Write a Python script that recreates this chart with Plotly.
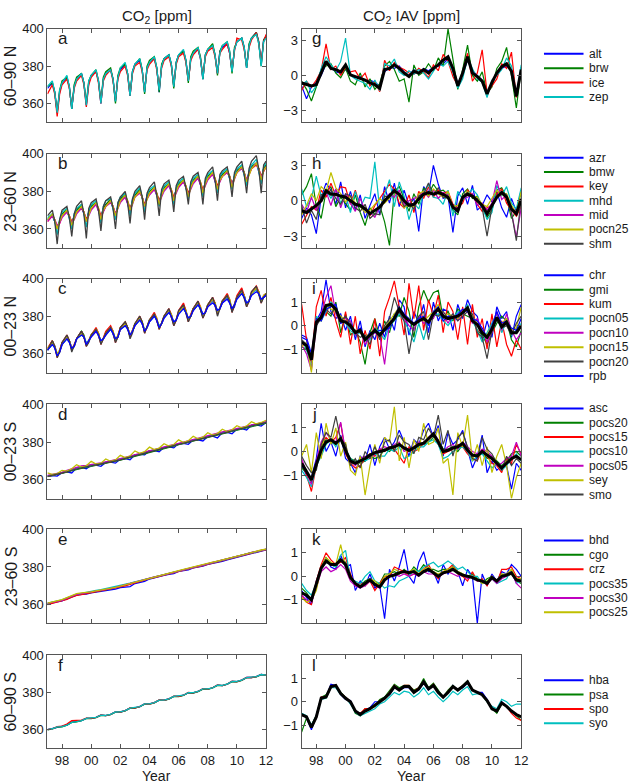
import plotly.graph_objects as go

# ---------------- time grids & ticks ----------------
YEARS = list(range(1997, 2012))
SEASON_MONTHS = [0, 4, 6, 8, 10]   # Jan, May, Jul, Sep, Nov samples (panels a-c)
THIRD_MONTHS = [0, 4, 8]           # Jan, May, Sep samples (panels d-l)
T_SEASON = [y + m / 12 for y in YEARS for m in SEASON_MONTHS] + [2012.0]
T_THIRD = [y + m / 12 for y in YEARS for m in THIRD_MONTHS] + [2012.0]

XTICK_VALS = [1998, 2000, 2002, 2004, 2006, 2008, 2010, 2012]
XTICK_TEXT = ['98', '00', '02', '04', '06', '08', '10', '12']
ROW_LABELS = ['60–90 N', '23–60 N', '00–23 N', '00–23 S', '23–60 S', '60–90 S']
LEFT_LETTERS = ['a', 'b', 'c', 'd', 'e', 'f']
RIGHT_LETTERS = ['g', 'h', 'i', 'j', 'k', 'l']

STATIONS = [
    ['alt', 'brw', 'ice', 'zep'],
    ['azr', 'bmw', 'key', 'mhd', 'mid', 'pocn25', 'shm'],
    ['chr', 'gmi', 'kum', 'pocn05', 'pocn10', 'pocn15', 'pocn20', 'rpb'],
    ['asc', 'pocs20', 'pocs15', 'pocs10', 'pocs05', 'sey', 'smo'],
    ['bhd', 'cgo', 'crz', 'pocs35', 'pocs30', 'pocs25'],
    ['hba', 'psa', 'spo', 'syo'],
]
COLORS = ['#0000ff', '#008000', '#ff0000', '#00bfbf', '#bf00bf', '#bfbf00', '#404040']

# ---------------- CO2 [ppm], panels a-c (T_SEASON) ----------------
a_alt = [368,371,366,355,366, 371,374,369,357,369, 373,376,371,359,371, 375,377,372,360,373, 376,378,373,361,374, 378,381,376,364,377, 381,383,378,366,379, 382,384,379,366,380, 384,386,381,369,382, 386,388,383,372,384, 387,389,384,373,386, 389,391,386,376,388, 390,392,387,377,389, 393,395,390,379,391, 395,398,393,381,394, 396]
a_brw = [369,371,366,355,367, 372,374,369,357,370, 374,376,371,360,372, 375,378,372,361,374, 377,379,373,360,375, 379,381,376,365,377, 381,384,378,365,380, 383,385,379,366,381, 384,386,381,368,382, 386,388,383,371,385, 388,390,385,373,386, 389,392,386,375,388, 391,393,388,376,390, 393,395,390,379,392, 395,398,393,380,394, 396]
a_ice = [365,370,365,353,365, 370,373,368,358,368, 372,375,370,358,370, 374,377,371,360,372, 375,378,372,362,373, 377,380,375,364,376, 380,382,377,367,378, 381,384,378,368,379, 383,385,380,370,381, 385,387,382,372,383, 386,389,384,374,385, 388,390,385,376,387, 389,392,387,378,388, 395,394,389,380,390, 394,398,392,382,393, 397]
a_zep = [369,372,366,355,367, 371,375,369,357,369, 373,376,371,359,372, 375,378,372,360,373, 376,378,373,361,374, 379,382,376,364,377, 381,384,378,366,379, 382,385,379,367,380, 384,386,381,369,382, 386,389,383,372,384, 387,390,384,373,386, 389,391,386,376,387, 391,393,388,377,389, 393,395,390,379,391, 395,397,392,380,393, 395]

b_azr = [365,367,364,360,364, 368,370,366,362,367, 370,372,368,364,369, 372,374,370,366,371, 373,375,371,367,372, 376,378,374,369,375, 378,380,377,372,378, 380,382,378,374,379, 382,384,380,376,381, 384,386,382,378,383, 386,388,384,379,385, 388,390,386,381,387, 389,391,387,383,388, 391,393,389,385,390, 393,395,391,386,392, 394]
b_bmw = [365,368,364,361,364, 368,370,367,363,367, 370,373,369,364,369, 372,374,370,366,371, 373,376,372,367,372, 376,378,374,370,375, 378,381,377,372,377, 380,382,379,374,379, 382,384,380,376,381, 384,386,382,378,383, 386,388,384,380,385, 388,390,386,382,387, 389,391,388,383,388, 391,393,390,385,390, 393,395,392,387,392, 394]
b_key = [364,367,365,361,363, 367,369,367,364,366, 369,371,369,365,368, 371,373,371,367,370, 372,375,372,368,371, 375,377,375,371,374, 377,380,377,373,376, 379,381,379,375,378, 381,383,381,377,380, 383,385,383,379,382, 385,387,385,381,384, 387,389,387,383,386, 388,390,388,384,387, 390,393,390,386,389, 392,394,392,388,391, 393]
b_mhd = [366,368,364,357,365, 369,371,366,360,368, 371,373,368,361,370, 373,375,370,363,372, 375,376,371,365,374, 377,379,374,367,376, 379,382,377,369,378, 381,383,378,372,380, 383,385,380,373,382, 385,387,382,376,384, 387,389,384,377,386, 389,391,386,379,388, 390,392,387,381,389, 392,394,389,383,391, 394,397,391,384,393, 395]
b_mid = [364,367,365,362,363, 366,369,367,363,365, 368,371,369,364,367, 370,373,370,366,369, 372,374,372,368,371, 374,377,374,370,373, 377,379,377,372,376, 378,381,378,374,377, 380,383,380,376,379, 382,385,382,378,381, 384,387,384,380,383, 386,389,386,382,385, 388,390,388,383,387, 390,392,390,386,389, 392,395,392,387,391, 393]
b_pocn25 = [365,368,365,360,364, 367,370,367,362,366, 369,372,369,364,368, 371,374,371,365,370, 372,375,372,367,371, 375,378,375,370,374, 377,380,377,372,376, 379,382,379,373,378, 381,384,381,375,380, 383,386,383,377,382, 385,388,385,379,384, 387,390,387,381,386, 388,391,388,382,387, 390,393,390,385,389, 392,395,392,386,391, 393]
b_shm = [367,370,364,352,365, 370,372,366,356,368, 372,375,368,355,371, 374,376,370,359,372, 375,377,371,360,374, 377,380,374,363,376, 380,383,377,365,379, 382,385,378,367,381, 384,386,380,369,383, 386,388,382,373,385, 388,390,384,373,387, 390,393,386,375,389, 391,393,387,377,390, 393,396,389,379,392, 396,399,392,379,394, 396]

c_chr = [362,366,364,359,361, 365,369,367,363,364, 368,372,369,365,367, 370,373,370,366,368, 371,374,371,367,369, 373,376,374,370,372, 376,379,376,372,374, 378,381,378,374,376, 380,383,380,376,378, 382,386,382,378,380, 384,387,384,380,382, 386,389,386,382,384, 388,391,388,383,385, 390,393,391,386,388, 392,395,392,388,390, 391]
c_gmi = [362,367,364,359,361, 366,369,367,362,364, 368,372,370,365,367, 370,373,371,366,368, 371,374,372,367,369, 374,377,374,369,372, 376,379,377,372,374, 378,381,378,374,376, 380,383,381,376,378, 382,386,383,378,380, 384,387,384,380,382, 386,389,387,382,384, 388,391,388,383,386, 390,393,391,386,388, 392,395,393,388,390, 391]
c_kum = [363,367,364,358,362, 366,370,367,362,365, 368,372,369,364,367, 370,374,371,365,368, 372,375,372,366,370, 374,377,374,369,372, 376,380,377,371,374, 378,382,379,373,376, 380,384,381,375,378, 383,387,383,377,381, 384,388,385,379,382, 386,390,387,381,384, 388,392,389,382,386, 391,395,391,385,388, 393,396,393,387,391, 392]
c_pocn05 = [362,365,364,360,361, 365,368,367,363,364, 368,370,369,366,367, 369,372,370,367,368, 370,373,371,368,369, 373,375,374,370,372, 375,378,376,373,374, 377,380,378,375,376, 379,382,380,377,378, 382,384,382,379,380, 383,386,384,381,382, 385,388,386,383,384, 387,390,388,384,386, 390,392,390,387,388, 392,394,392,389,390, 391]
c_pocn10 = [362,366,364,360,361, 365,369,367,363,364, 368,371,369,365,367, 369,372,370,366,368, 370,374,371,367,369, 373,376,374,370,372, 375,379,376,372,374, 377,381,378,374,376, 379,383,380,376,378, 382,385,382,378,380, 383,387,384,380,382, 385,389,386,382,384, 387,391,388,384,386, 390,393,390,386,388, 392,395,392,388,390, 391]
c_pocn15 = [363,366,364,360,362, 365,369,367,363,364, 368,371,369,365,367, 370,373,371,366,368, 371,374,372,367,370, 373,376,374,370,372, 376,379,377,372,374, 378,381,379,374,376, 380,383,381,376,378, 382,385,383,378,380, 384,387,385,380,382, 386,389,387,382,384, 388,391,389,384,386, 390,393,391,386,388, 392,395,393,388,391, 392]
c_pocn20 = [362,367,364,358,361, 366,370,367,361,364, 368,372,369,364,366, 370,373,370,365,368, 371,374,371,366,369, 374,377,374,368,371, 376,380,377,371,374, 378,381,378,373,376, 380,384,380,375,378, 383,386,382,377,380, 384,388,384,379,382, 386,390,386,380,384, 388,391,388,382,386, 390,394,390,385,388, 393,396,392,387,390, 392]
c_rpb = [362,365,363,359,361, 365,368,366,363,364, 368,370,369,365,367, 369,372,370,367,368, 370,373,371,368,369, 373,375,373,370,372, 375,378,376,372,374, 377,380,378,374,376, 379,382,380,377,378, 381,384,382,379,380, 383,386,384,381,382, 385,387,386,383,384, 387,389,387,384,386, 389,392,390,387,388, 391,393,392,389,390, 391]

# ---------------- CO2 [ppm], panels d-f (T_THIRD) ----------------
d_asc = [362.0,362.2,361.9, 363.7,364.2,363.6, 366.3,366.5,365.8, 367.7,367.7,367.1, 369.2,369.3,368.8, 371.0,371.2,370.6, 373.2,373.5,373.2, 375.4,375.5,374.9, 377.2,377.4,376.9, 379.2,379.3,378.8, 381.1,381.2,380.6, 383.0,383.2,382.2, 385.0,385.1,384.4, 386.9,387.1,386.4, 389.0,389.1,388.5, 390.4]
d_pocs20 = [361.6,362.1,362.6, 363.1,364.0,364.8, 365.6,366.1,366.6, 367.1,367.6,368.1, 368.6,369.2,369.8, 370.4,371.1,371.8, 372.6,373.3,374.1, 374.8,375.4,376.0, 376.6,377.3,377.9, 378.6,379.2,379.9, 380.5,381.1,381.8, 382.4,383.1,383.7, 384.4,385.0,385.7, 386.3,387.0,387.7, 388.4,389.0,389.6, 390.1]
d_pocs15 = [361.8,362.4,363.1, 363.6,364.3,365.3, 366.2,366.4,367.1, 367.6,367.9,368.6, 369.1,369.5,370.3, 370.9,371.4,372.3, 373.1,373.6,374.6, 375.3,375.7,376.5, 377.1,377.6,378.4, 379.1,379.5,380.4, 381.0,381.4,382.3, 382.9,383.4,384.2, 384.9,385.3,386.2, 386.8,387.3,388.2, 388.9,389.3,390.1, 390.6]
d_pocs10 = [361.9,362.5,363.0, 363.4,364.4,365.1, 366.0,366.6,366.9, 367.5,368.1,368.4, 369.0,369.7,370.1, 370.8,371.6,372.1, 373.0,373.8,374.4, 375.2,375.9,376.3, 377.0,377.8,378.2, 379.0,379.7,380.2, 380.9,381.6,382.1, 382.8,383.6,384.0, 384.8,385.5,386.0, 386.7,387.5,388.0, 388.8,389.5,389.9, 390.5]
d_pocs05 = [362.3,362.9,363.4, 363.9,365.0,365.8, 366.8,367.3,367.6, 368.2,368.5,368.9, 369.4,370.0,370.6, 371.2,371.9,372.6, 373.4,374.1,374.9, 375.6,376.2,376.8, 377.4,378.1,378.7, 379.4,380.1,380.9, 381.6,382.2,382.9, 383.5,384.2,384.8, 385.4,386.0,386.6, 387.1,387.8,388.5, 389.2,389.8,390.4, 390.9]
d_sey = [363.6,362.8,363.3, 365.0,364.6,365.8, 368.0,366.7,367.4, 369.8,368.3,368.8, 371.0,369.8,370.5, 373.0,371.7,372.6, 375.3,374.0,374.9, 377.3,376.0,376.8, 379.1,377.9,378.7, 381.2,379.8,380.7, 383.1,381.7,382.6, 385.0,383.7,384.5, 386.8,385.6,386.5, 388.7,387.6,388.5, 390.8,389.6,390.4, 391.6]
d_smo = [361.8,362.3,362.8, 363.3,364.2,365.0, 365.8,366.3,366.8, 367.3,367.8,368.3, 368.8,369.4,370.0, 370.6,371.3,372.0, 372.8,373.5,374.3, 375.0,375.6,376.2, 376.8,377.5,378.1, 378.8,379.4,380.1, 380.7,381.3,382.0, 382.6,383.3,383.9, 384.6,385.2,385.9, 386.5,387.2,387.9, 388.6,389.2,389.8, 390.3]

e_bhd = [360.4,360.9,361.2, 362.0,363.1,364.0, 365.0,365.4,365.6, 366.2,366.6,366.8, 367.4,367.9,368.2, 369.0,369.4,369.6, 371.2,371.8,372.4, 373.6,374.1,374.6, 375.5,376.1,376.5, 377.6,378.0,378.5, 379.5,379.9,380.4, 381.4,381.9,382.2, 382.9,383.7,384.4, 385.3,385.8,386.4, 387.4,387.8,388.4, 389.1]
e_cgo = [360.6,361.1,361.6, 362.3,363.3,364.3, 365.2,365.6,366.0, 366.4,366.9,367.3, 367.8,368.4,369.0, 369.6,370.3,371.0, 371.8,372.5,373.3, 374.0,374.6,375.2, 375.8,376.5,377.1, 377.8,378.4,379.1, 379.7,380.3,381.0, 381.6,382.3,382.9, 383.6,384.2,384.9, 385.5,386.2,386.9, 387.6,388.2,388.8, 389.3]
e_crz = [360.0,360.6,361.3, 361.8,362.8,363.9, 364.9,365.3,365.8, 366.2,366.6,367.1, 367.6,368.1,368.8, 369.4,370.0,370.8, 371.6,372.2,373.1, 373.8,374.3,375.0, 375.6,376.2,376.9, 377.6,378.1,378.9, 379.5,380.0,380.8, 381.4,382.0,382.7, 383.4,383.9,384.7, 385.3,385.9,386.7, 387.4,387.9,388.6, 389.1]
e_pocs35 = [360.8,361.3,361.8, 362.5,363.6,364.6, 365.5,366.0,366.4, 366.9,367.5,368.0, 368.5,369.1,369.6, 370.2,370.8,371.4, 372.1,372.7,373.4, 374.0,374.6,375.2, 375.8,376.5,377.1, 377.8,378.4,379.1, 379.7,380.3,381.0, 381.6,382.3,382.9, 383.6,384.2,384.9, 385.5,386.2,386.9, 387.6,388.2,388.8, 389.3]
e_pocs30 = [360.6,361.2,361.7, 362.3,363.4,364.4, 365.4,365.8,366.2, 366.6,367.1,367.5, 368.0,368.5,369.1, 369.7,370.4,371.1, 371.9,372.6,373.4, 374.1,374.7,375.3, 375.9,376.6,377.2, 377.9,378.5,379.2, 379.8,380.4,381.1, 381.7,382.4,383.0, 383.7,384.3,385.0, 385.6,386.3,387.0, 387.7,388.3,388.9, 389.4]
e_pocs25 = [360.8,361.4,362.0, 362.6,363.7,364.8, 365.8,366.2,366.4, 366.8,367.3,367.7, 368.2,368.7,369.2, 369.8,370.5,371.3, 372.1,372.8,373.6, 374.3,374.9,375.5, 376.1,376.8,377.4, 378.1,378.7,379.4, 380.0,380.6,381.3, 381.9,382.5,383.1, 383.8,384.4,385.1, 385.7,386.4,387.1, 387.8,388.4,389.0, 389.5]

f_hba = [360.0,360.6,361.4, 361.7,362.5,364.0, 364.3,364.9,366.1, 366.1,366.6,367.8, 367.6,368.2,369.5, 369.5,370.2,371.6, 371.7,372.4,373.8, 373.8,374.5,375.9, 375.8,376.5,377.9, 377.9,378.5,379.9, 379.8,380.5,381.9, 381.8,382.5,383.9, 383.7,384.5,385.9, 385.8,386.6,388.0, 388.0,388.5,389.6, 389.3]
f_psa = [359.9,360.4,361.4, 361.5,362.4,363.9, 364.2,364.8,366.0, 366.0,366.5,367.7, 367.5,368.1,369.4, 369.4,370.1,371.5, 371.6,372.3,373.7, 373.7,374.4,375.8, 375.7,376.4,377.8, 377.8,378.4,379.8, 379.7,380.4,381.8, 381.7,382.4,383.8, 383.6,384.4,385.8, 385.7,386.5,387.9, 387.9,388.4,389.5, 389.2]
f_spo = [360.0,360.5,361.6, 361.9,363.0,364.8, 365.0,365.1,366.2, 366.1,366.6,367.9, 367.6,368.2,369.6, 369.5,370.2,371.7, 371.7,372.4,373.9, 373.8,374.5,376.0, 375.8,376.5,378.0, 377.9,378.5,380.0, 379.8,380.5,382.0, 381.8,382.5,384.0, 383.7,384.5,386.0, 385.8,386.6,388.1, 388.0,388.5,389.7, 389.3]
f_syo = [360.0,360.5,361.5, 361.6,362.4,363.9, 364.3,364.9,366.1, 366.2,366.6,367.8, 367.7,368.2,369.5, 369.6,370.2,371.6, 371.8,372.4,373.8, 373.9,374.5,375.9, 375.9,376.5,377.9, 378.0,378.5,379.9, 379.9,380.5,381.9, 381.9,382.5,383.9, 383.8,384.5,385.9, 385.9,386.6,388.0, 388.1,388.5,389.6, 389.3]

# ---------------- CO2 IAV [ppm], panels g-l (T_THIRD) ----------------
g_alt = [-0.9,-2.0,-1.0, -0.6,0.0,1.0, 0.7,0.3,0.2, 0.5,0.0,-0.2, -0.1,-0.5,-0.4, -0.6,-0.9,0.3, 0.7,0.6,0.8, 0.3,0.0,0.5, 0.1,0.6,0.4, 0.7,0.8,1.0, 1.4,0.5,-0.7, 0.1,1.3,0.4, 0.0,-0.4,-1.4, -0.8,0.3,0.6, 0.8,0.5,-1.6, 0.3]
g_brw = [-0.5,-1.2,-2.2, -1.0,0.5,0.8, 1.0,0.2,-0.2, 0.6,-0.5,-0.8, 0.2,-1.0,-0.3, -1.2,-0.7,0.8, 1.2,0.5,-0.5, -0.3,-2.3,0.9, 0.0,0.3,1.0, 0.4,1.5,0.8, 4.0,1.5,-1.2, 0.5,2.6,0.0, -0.5,0.3,-1.5, -1.0,0.6,1.2, 2.4,0.0,-2.8, 0.6]
g_ice = [-1.3,-0.5,-1.0, -0.4,0.4,2.7, 0.5,0.8,0.0, 0.7,0.3,0.4, -0.3,0.2,-0.9, -0.5,-1.4,1.3, 0.4,1.1,0.7, 0.5,0.2,0.1, 0.6,0.3,-0.2, 0.9,0.4,1.8, 1.2,-0.1,-0.9, 0.3,1.9,-0.5, 0.2,2.2,-1.5, -0.9,-0.3,1.0, 0.6,2.0,-1.9, 0.7]
g_zep = [-0.8,-0.5,-1.5, -0.9,0.6,1.6, 0.9,0.4,1.2, 3.2,0.0,-0.3, -0.5,-0.7,-1.2, -0.4,-1.3,1.0, 0.8,1.4,0.3, 0.0,0.4,0.1, 0.5,0.2,-0.3, 0.4,1.0,0.8, 1.2,0.3,-1.1, -0.3,1.5,0.6, -0.3,-0.6,-1.9, -0.4,0.0,0.5, 1.5,0.8,-1.7, 0.9]
g_mean = [-0.65,-0.8,-0.9, -0.8,0.2,1.2, 0.6,0.5,0.3, 0.9,0.05,-0.1, -0.2,-0.4,-0.65, -0.8,-1.1,0.5, 0.6,0.9,0.6, 0.2,-0.1,0.35, 0.2,0.5,0.2, 0.6,0.9,1.3, 1.6,0.6,-0.9, 0.2,1.6,0.2, -0.1,-0.5,-1.6, -0.6,0.2,0.75, 1.0,0.35,-1.8, 0.5]

h_azr = [-1.5,-0.6,-1.2, -2.8,0.3,1.5, 0.9,-0.3,1.6, -0.6,0.8,-0.8, 0.5,-1.5,-0.4, 0.6,-1.2,1.2, -0.2,1.5,-0.5, 0.9,-0.4,0.2, -2.6,1.2,0.6, 3.0,1.4,0.2, 0.4,-2.7,0.4, 1.1,-0.3,1.3, -0.8,-0.4,0.5, -0.1,0.8,-0.6, -1.4,0.2,-0.9, 0.9]
h_bmw = [0.5,1.2,2.3, -0.5,-1.5,0.8, 1.2,-0.5,0.3, -0.2,-0.8,0.5, -1.0,-2.1,-0.6, -1.2,-0.4,-1.8, -3.8,0.8,1.2, 0.2,-0.9,0.6, -0.3,1.1,0.5, 1.4,0.8,0.9, 0.5,-0.8,-1.2, 0.6,1.0,0.2, 0.4,-0.6,-1.4, -0.8,0.9,1.1, 0.3,-1.5,-0.9, 0.8]
h_key = [-2.0,-1.2,-0.5, -0.8,0.9,0.3, 1.5,0.4,1.2, 1.1,-0.3,0.9, -0.5,-0.6,-1.3, -0.4,0.2,0.8, 1.4,1.0,-0.2, -0.6,0.5,-1.0, 0.8,0.2,1.2, 0.3,0.9,0.6, 0.8,-0.3,-0.6, -0.2,0.9,0.5, -0.3,-0.9,-0.6, -0.4,0.6,1.0, -0.2,-0.8,-1.3, -0.5]
h_mhd = [1.0,-0.5,0.2, 2.1,0.4,0.9, 0.2,1.0,-0.2, 0.5,-1.0,0.8, -0.6,0.3,0.2, 3.3,-0.8,0.6, 1.8,-0.5,1.6, 0.4,-1.6,-0.2, -0.7,0.6,1.4, 0.3,0.2,-0.3, 0.9,-1.3,0.8, 0.1,0.5,1.0, 0.5,-0.5,-1.6, -1.0,1.3,0.4, 1.2,-0.2,-0.7, 1.1]
h_mid = [-0.3,-1.0,0.3, -0.8,0.2,0.8, -0.4,1.0,-0.6, 0.6,-0.2,-0.9, 0.2,-0.8,-1.0, -1.4,-0.5,-0.1, 0.6,0.3,0.9, -0.3,0.0,0.2, 0.4,0.8,0.3, 0.9,0.2,0.7, 0.5,-0.4,-1.0, 0.2,0.3,0.6, -0.4,-0.2,-0.8, -0.2,1.7,0.1, 0.5,-1.0,-3.1, -0.6]
h_pocn25 = [-1.2,-0.4,0.6, 0.0,1.2,0.8, 2.4,1.1,0.6, -0.1,0.4,-0.2, -0.5,-1.0,-0.8, -0.3,0.2,-0.2, 0.2,1.0,0.3, -0.6,-0.3,-0.5, 0.6,0.8,0.4, 1.0,0.6,0.3, 0.8,-0.5,-0.4, 0.4,0.8,0.3, 0.3,-0.3,-0.5, 0.2,0.9,0.5, 0.6,-0.4,-1.0, 0.8]
h_shm = [-0.4,-1.9,-0.8, -1.6,0.5,0.6, 0.9,0.2,-0.3, 0.6,0.4,-0.6, -0.9,-0.3,-1.5, -1.1,-1.2,0.4, 0.3,0.9,0.5, -0.5,-0.2,-0.7, 0.4,0.6,1.5, 0.5,1.1,0.3, 0.2,-0.5,-1.0, 0.4,0.7,0.3, 0.2,-0.6,-3.0, -0.5,0.4,0.8, 0.5,-1.0,-3.4, 0.2]
h_mean = [-0.85,-1.0,-0.7, -0.4,0.0,0.85, 0.55,0.55,0.4, 0.3,0.0,-0.3, -0.4,-0.7,-1.1, -0.85,-0.55,0.0, 0.4,0.85,0.55, 0.0,-0.4,-0.3, 0.15,0.55,0.7, 0.55,0.7,0.55, 0.3,-0.55,-0.85, 0.3,0.55,0.4, 0.0,-0.4,-1.1, -0.4,0.3,0.7, 0.3,-0.7,-1.1, 0.15]

i_chr = [-0.4,-0.5,-1.2, 0.2,0.6,1.95, 0.6,0.3,0.5, -0.2,0.4,-0.6, 0.2,-0.9,-0.2, -0.6,0.1,-0.5, 0.4,-0.2,1.1, 0.8,-0.4,0.6, 0.1,0.9,-0.3, 1.0,0.2,0.7, 0.6,-0.2,0.9, 0.3,1.1,0.6, 0.4,-0.6,0.2, -0.5,0.8,0.3, 0.6,-0.5,0.4, 0.9]
i_gmi = [-0.9,-1.0,-1.5, 0.1,0.4,0.6, 0.4,1.0,-0.3, 0.5,-0.4,-0.2, -0.7,-1.65,-0.3, 0.3,-0.5,0.2, -0.3,0.5,0.4, 1.2,0.6,-0.5, 0.8,1.5,1.0, 1.4,1.5,0.3, 0.6,0.2,0.7, 0.5,0.4,0.3, -0.2,-0.4,-0.8, -0.3,0.1,0.4, 0.2,-0.6,-0.9, -0.2]
i_kum = [0.9,-0.6,-1.6, 0.8,1.5,0.4, 1.2,0.2,-0.5, 0.6,-0.8,0.4, -1.2,-0.2,-1.0, 0.3,-1.3,0.6, 1.2,1.9,0.8, -0.4,1.8,0.3, 1.7,-0.2,1.1, 0.4,1.3,-0.3, 1.0,0.6,-0.6, 0.8,-0.8,0.9, -0.5,0.3,-1.0, 0.5,-0.9,0.2, -0.8,-1.3,-0.6, -1.0]
i_pocn05 = [-0.6,-1.0,-1.8, 0.4,0.2,0.6, 1.0,0.8,0.3, 0.1,-0.2,-0.4, -0.3,-0.5,-0.6, -0.1,-0.3,-0.6, 0.0,0.2,0.5, 0.2,-0.2,-0.7, 0.1,-0.6,0.2, 0.4,0.5,0.2, 0.0,0.3,0.6, 0.5,0.9,0.2, -0.2,-0.7,-0.3, 0.1,0.5,-0.3, 0.2,-0.4,-0.2, 0.1]
i_pocn10 = [-0.8,-1.2,-1.9, 0.0,0.5,1.2, 1.7,0.5,0.1, 0.3,0.2,-0.4, -0.2,-0.8,-0.5, -0.3,-0.4,-1.65, 0.1,0.3,0.6, 0.3,0.0,-0.2, 0.4,0.1,0.2, 0.3,0.8,0.5, 0.1,0.5,0.2, 0.7,0.6,0.1, 0.3,-0.2,-0.7, -0.3,0.6,-0.2, 0.5,-0.2,-0.6, -0.3]
i_pocn15 = [-0.9,-0.7,-2.0, 0.3,0.2,0.9, 0.7,0.6,0.4, 0.2,-0.1,-0.2, -0.3,-0.5,-0.3, -0.2,-0.4,-0.1, 0.2,0.5,0.8, 0.4,0.3,0.1, 0.3,0.2,0.4, 0.6,0.9,0.4, 0.5,0.4,0.3, 0.6,0.8,0.4, 0.1,-0.3,-0.4, 0.0,0.3,0.1, 0.3,-0.2,-0.1, 0.8]
i_pocn20 = [-0.6,-0.8,-1.3, 0.0,0.3,0.7, 0.5,0.8,0.2, 0.4,0.1,-0.3, -0.5,-0.4,-0.8, -0.1,-0.6,0.0, 0.3,1.2,0.6, 0.2,-1.2,0.0, 0.4,0.6,-0.6, 0.5,0.4,0.6, 0.3,0.5,0.2, 0.4,0.6,0.5, -0.3,-0.5,-1.4, -0.2,0.3,-0.1, 0.0,-0.4,0.1, 0.4]
i_rpb = [-0.5,-0.6,-1.4, 0.3,0.2,0.7, 0.8,0.9,0.1, 0.2,-0.1,-0.3, -0.1,-0.6,-0.3, -0.3,-0.2,-0.2, -0.1,0.4,0.8, 0.5,0.3,0.1, 0.3,0.4,0.0, 0.6,0.8,0.2, 0.4,0.3,0.5, 0.7,0.6,0.3, 0.2,-0.1,-0.5, 0.0,0.6,0.1, 0.2,-0.1,-0.2, 0.3]
i_mean = [-0.7,-0.85,-1.45, 0.15,0.35,0.85, 0.9,0.7,0.2, 0.15,0.0,-0.3, -0.2,-0.6,-0.4, -0.2,-0.4,-0.15, 0.05,0.3,0.7, 0.4,0.2,0.05, 0.2,0.3,0.15, 0.5,0.7,0.4, 0.3,0.35,0.4, 0.55,0.75,0.2, 0.05,-0.3,-0.5, -0.15,0.35,-0.05, 0.15,-0.3,-0.3, 0.0]

j_asc = [-0.6,-1.0,-1.1, -0.3,1.2,0.0, 0.4,-0.2,0.7, -0.3,-0.5,-0.9, -0.2,-0.4,0.3, -0.6,0.2,0.6, 0.1,0.4,0.9, 0.4,-0.2,0.5, 0.3,0.9,1.2, 0.6,1.1,-0.2, 0.8,0.3,0.5, 0.9,0.1,-0.7, -0.2,0.7,-0.9, -0.4,-0.8,-0.6, -0.6,-1.6,-0.5, -0.8]
j_pocs20 = [-0.7,-0.9,-1.3, -0.5,0.2,0.5, 0.4,0.3,0.5, 0.0,-0.3,-0.4, -0.5,-0.4,-0.2, -0.3,-0.2,0.1, 0.0,0.2,0.3, 0.1,0.0,0.2, 0.2,0.3,0.4, 0.6,0.5,0.1, 0.1,0.2,0.0, 0.3,0.1,-0.2, -0.1,0.0,-0.3, -0.2,-0.4,-0.6, -0.4,-0.1,0.0, -0.2]
j_pocs15 = [-0.4,-1.0,-1.7, -0.6,0.3,0.6, 0.4,0.6,1.2, -0.1,-0.5,-0.7, -0.6,-0.3,-0.1, -0.2,0.1,0.0, 0.2,0.1,-0.2, -0.5,0.2,0.0, 0.1,0.4,0.5, 0.7,0.3,-0.1, 0.0,0.1,0.3, 0.2,-0.1,-0.3, -0.4,0.1,-0.2, -0.5,-0.6,-0.9, -0.3,-0.5,0.3, -0.1]
j_pocs10 = [-0.8,-1.1,-1.5, -0.6,-0.2,0.3, 0.5,0.2,0.6, 0.1,-0.3,-0.5, -0.3,-0.4,-0.3, -0.1,-0.2,-0.2, 0.1,0.0,0.2, -0.3,-0.2,0.0, 0.2,0.2,0.4, 0.5,0.3,-0.3, -0.2,0.0,0.1, 0.2,0.0,-0.4, -0.2,-0.1,-0.4, -0.7,-0.5,-0.8, -0.6,-0.3,-0.1, -0.4]
j_pocs05 = [-0.3,-0.9,-1.4, -0.4,0.4,0.8, 0.5,0.4,1.25, 0.0,-0.4,-0.6, -0.3,-0.2,-0.3, -0.1,0.1,0.2, 0.1,0.3,0.4, 0.0,0.1,0.2, 0.4,0.3,0.6, 0.8,0.5,0.0, 0.2,0.3,0.1, 0.4,0.2,0.0, -0.1,0.1,0.0, -0.2,-0.6,-0.5, -0.3,-0.2,0.4, -0.2]
j_sey = [-0.2,0.3,-0.9, 0.8,-0.3,1.2, 0.3,1.0,-0.2, 0.4,-0.8,-1.0, -0.2,-1.85,-0.6, 0.3,-0.5,0.6, 0.4,1.9,-0.4, 0.6,-0.7,0.5, 0.0,1.2,0.3, 0.4,1.0,-0.5, -0.3,-1.85,0.8, 0.2,1.55,-0.4, 0.3,-0.6,0.2, -0.9,-0.2,0.3, -0.6,-2.0,-1.1, -0.5]
j_smo = [-0.2,-0.6,-0.9, -0.8,0.3,0.8, 0.6,1.5,0.5, 0.3,-0.6,-0.3, -0.7,0.0,-0.3, 0.2,-0.3,0.4, 0.5,0.0,0.7, 0.4,0.3,-0.1, 0.6,0.5,1.0, 0.6,1.55,0.3, 0.9,-0.2,0.6, 0.8,0.2,-0.3, -0.4,0.6,0.1, -0.1,-0.5,-0.8, -0.2,-0.6,-0.3, -0.5]
j_mean = [-0.5,-0.85,-1.2, -0.55,0.05,0.4, 0.5,0.35,0.55, 0.05,-0.4,-0.5, -0.4,-0.3,-0.15, -0.05,0.0,0.05, 0.15,0.2,0.3, 0.15,0.05,0.15, 0.3,0.35,0.55, 0.75,0.4,0.0, 0.05,0.15,0.2, 0.35,0.05,-0.15, -0.2,0.0,-0.15, -0.3,-0.5,-0.7, -0.5,-0.3,-0.2, -0.35]

k_bhd = [-0.6,-0.9,-1.2, -0.2,0.4,0.8, 0.4,0.3,0.9, 0.4,0.5,-0.6, -0.2,-0.4,0.1, -0.5,-0.4,-1.8, 0.3,-0.2,0.4, 1.15,0.0,-0.3, 0.6,1.05,0.2, 0.2,-0.3,0.5, 0.1,0.4,0.2, -0.4,0.3,0.0, -2.0,0.1,-0.4, 0.1,-0.2,0.2, 0.1,0.5,0.3, 0.0]
k_cgo = [-0.5,-0.7,-1.0, -0.4,0.4,0.8, 0.5,0.4,0.7, 0.6,0.0,-0.3, -0.4,-0.2,-0.1, -0.3,-0.3,0.1, 0.1,0.2,0.1, 0.3,0.1,0.4, 0.2,0.5,0.3, 0.3,0.2,0.3, 0.3,0.4,0.2, 0.1,0.0,0.1, -0.1,-0.3,-0.1, 0.0,-0.2,0.1, 0.0,0.1,-0.2, -0.3]
k_crz = [-0.8,-1.1,-1.2, -0.2,0.5,1.0, 0.7,0.5,0.6, 0.8,0.1,-0.4, -0.3,-0.4,-0.2, -0.6,-0.3,0.0, 0.0,0.4,0.3, 0.2,0.0,0.1, 0.1,0.3,0.5, 0.1,-0.1,0.2, 0.3,0.5,0.1, 0.0,-0.2,0.2, -0.2,-0.1,-0.4, 0.0,-0.3,0.3, 0.3,0.4,0.0, -0.1]
k_pocs35 = [-0.3,-0.6,-0.8, -0.3,0.3,0.6, 0.5,0.4,0.9, 1.1,-0.1,-0.2, -0.3,0.0,0.2, -0.2,-0.3,-0.5, -0.4,-0.45,-0.2, -0.1,0.0,0.3, 0.2,0.4,0.5, 0.6,0.4,0.5, 0.65,0.5,0.3, 0.4,0.2,0.0, 0.0,-0.3,-0.2, -0.1,-0.3,-0.2, -0.1,0.3,-0.3, -0.2]
k_pocs30 = [-0.8,-1.0,-1.1, -0.5,0.2,0.4, 0.2,0.3,0.5, 0.3,-0.2,-0.4, -0.5,-0.4,-0.2, -0.4,-0.5,-0.2, 0.0,0.1,0.0, 0.1,0.0,0.1, 0.0,0.2,0.1, 0.1,0.0,0.1, 0.2,0.1,0.0, 0.1,-0.1,0.0, -0.2,-0.2,-0.3, -0.1,-0.3,-0.1, 0.0,0.2,-0.3, -0.5]
k_pocs25 = [-0.9,-1.1,-1.0, -0.6,0.4,0.8, 0.6,0.5,1.35, 0.4,-0.1,-0.3, -0.4,-0.3,-0.1, -0.2,-0.4,0.0, 0.1,0.3,0.2, 0.2,0.2,0.3, 0.1,0.3,0.4, 0.2,0.1,0.2, 0.3,0.4,0.2, 0.1,0.0,0.0, -0.1,-0.3,-0.2, 0.0,-0.2,0.1, 0.1,0.3,-0.1, -0.1]
k_mean = [-0.7,-0.8,-1.0, -0.3,0.35,0.65, 0.5,0.5,0.7, 0.5,-0.05,-0.3, -0.45,-0.3,-0.15, -0.35,-0.45,-0.15, 0.0,0.05,0.15, 0.2,0.15,0.2, 0.05,0.2,0.3, 0.15,0.0,0.15, 0.2,0.3,0.15, 0.05,0.0,-0.05, -0.15,-0.2,-0.3, -0.05,-0.2,0.0, 0.05,0.15,-0.15, -0.2]

l_hba = [-0.5,-0.7,-1.2, -0.6,0.2,0.2, 0.75,0.7,0.3, 0.1,0.05,-0.4, -0.5,-0.4,-0.25, 0.0,0.0,0.2, 0.3,0.6,0.5, 0.6,0.6,0.4, 0.5,0.8,0.5, 0.7,0.4,0.2, 0.4,0.7,0.5, 0.6,0.8,0.5, 0.4,0.4,0.1, -0.3,-0.4,0.0, -0.2,-0.4,-0.6, -0.6]
l_psa = [-1.3,-0.7,-1.0, -0.6,0.2,0.3, 0.6,0.7,0.4, 0.2,0.0,-0.5, -0.6,-0.3,-0.3, -0.2,0.1,0.2, 0.5,0.75,0.6, 0.7,0.7,0.5, 0.6,1.0,0.6, 0.8,0.5,0.2, 0.5,0.7,0.5, 0.7,0.9,0.5, 0.4,0.3,0.0, -0.3,-0.5,-0.1, -0.2,-0.4,-0.6, -0.8]
l_spo = [-0.6,-0.6,-1.1, -0.7,0.2,0.2, 0.6,0.7,0.35, 0.2,0.0,-0.4, -0.5,-0.3,-0.3, -0.2,0.05,0.15, 0.4,0.7,0.5, 0.7,0.7,0.45, 0.6,0.9,0.55, 0.75,0.4,0.2, 0.45,0.65,0.5, 0.7,0.85,0.5, 0.4,0.3,0.05, -0.3,-0.4,-0.05, -0.2,-0.5,-0.7, -0.8]
l_syo = [-0.5,-0.6,-1.0, -0.6,0.1,0.15, 0.6,0.6,0.3, 0.2,-0.1,-0.45, -0.6,-0.5,-0.4, -0.3,-0.1,0.0, 0.2,0.4,0.3, 0.45,0.4,0.2, 0.35,0.6,0.3, 0.45,0.2,0.0, 0.2,0.45,0.3, 0.5,0.65,0.3, 0.35,0.3,0.0, -0.2,-0.3,0.1, 0.0,-0.2,-0.1, -0.1]
l_mean = [-0.55,-0.65,-1.1, -0.65,0.15,0.2, 0.65,0.7,0.35, 0.15,0.0,-0.4, -0.55,-0.4,-0.3, -0.15,0.0,0.15, 0.35,0.65,0.5, 0.65,0.65,0.4, 0.55,0.85,0.55, 0.7,0.4,0.2, 0.4,0.65,0.5, 0.65,0.85,0.5, 0.4,0.3,0.05, -0.3,-0.4,-0.05, -0.2,-0.4,-0.55, -0.65]

LEFT_DATA = [
    (T_SEASON, [a_alt, a_brw, a_ice, a_zep]),
    (T_SEASON, [b_azr, b_bmw, b_key, b_mhd, b_mid, b_pocn25, b_shm]),
    (T_SEASON, [c_chr, c_gmi, c_kum, c_pocn05, c_pocn10, c_pocn15, c_pocn20, c_rpb]),
    (T_THIRD, [d_asc, d_pocs20, d_pocs15, d_pocs10, d_pocs05, d_sey, d_smo]),
    (T_THIRD, [e_bhd, e_cgo, e_crz, e_pocs35, e_pocs30, e_pocs25]),
    (T_THIRD, [f_hba, f_psa, f_spo, f_syo]),
]
RIGHT_DATA = [
    ([g_alt, g_brw, g_ice, g_zep], g_mean),
    ([h_azr, h_bmw, h_key, h_mhd, h_mid, h_pocn25, h_shm], h_mean),
    ([i_chr, i_gmi, i_kum, i_pocn05, i_pocn10, i_pocn15, i_pocn20, i_rpb], i_mean),
    ([j_asc, j_pocs20, j_pocs15, j_pocs10, j_pocs05, j_sey, j_smo], j_mean),
    ([k_bhd, k_cgo, k_crz, k_pocs35, k_pocs30, k_pocs25], k_mean),
    ([l_hba, l_psa, l_spo, l_syo], l_mean),
]
RIGHT_RANGES = [(-4, 4), (-4, 4), (-2, 2), (-2, 2), (-2, 2), (-2, 2)]
RIGHT_TICKS = [[-3, 0, 3], [-3, 0, 3], [-1, 0, 1], [-1, 0, 1], [-1, 0, 1], [-1, 0, 1]]

# ---------------- layout geometry (pixels) ----------------
W, H = 638, 783
LEFT_X = (48, 269)
RIGHT_X = (305, 527)
ROWS_Y = [(22, 116), (148, 243), (274, 369), (401, 496), (527, 622), (654, 748)]
FONT = 'Liberation Sans, Arial, Helvetica, sans-serif'
AXCOL = '#555555'
TXT = '#1a1a1a'

fig = go.Figure()
layout = dict(width=W, height=H, margin=dict(l=0, r=0, t=0, b=0),
              paper_bgcolor='white', plot_bgcolor='white', showlegend=False,
              font=dict(family=FONT, size=13, color=TXT))
annotations = []
shapes = []

def axis_common():
    return dict(showline=True, linecolor=AXCOL, linewidth=1, mirror='ticks',
                ticks='inside', ticklen=4, tickcolor=AXCOL, showgrid=False,
                zeroline=False, tickfont=dict(size=13, family=FONT, color=TXT))

for r in range(6):
    y0, y1 = ROWS_Y[r]
    ydom = [1 - y1 / H, 1 - y0 / H]
    for side in range(2):
        n = 2 * r + side + 1
        sfx = '' if n == 1 else str(n)
        xs = LEFT_X if side == 0 else RIGHT_X
        xa = axis_common()
        xa.update(domain=[xs[0] / W, xs[1] / W], range=[1997, 2012],
                  tickvals=XTICK_VALS, ticktext=XTICK_TEXT,
                  showticklabels=(r == 5), anchor='y' + sfx)
        ya = axis_common()
        if side == 0:
            ya.update(range=[350, 400], tickvals=[360, 380, 400])
        else:
            ya.update(range=list(RIGHT_RANGES[r]), tickvals=RIGHT_TICKS[r])
        ya.update(domain=ydom, anchor='x' + sfx)
        layout['xaxis' + sfx] = xa
        layout['yaxis' + sfx] = ya
        xref, yref = 'x' + sfx, 'y' + sfx

        if side == 0:
            t, series = LEFT_DATA[r]
            for k, s in enumerate(series):
                fig.add_trace(go.Scatter(x=t, y=s, mode='lines', xaxis=xref, yaxis=yref,
                                         line=dict(color=COLORS[k % 7], width=1.3),
                                         name=STATIONS[r][k], hoverinfo='skip'))
            letter = LEFT_LETTERS[r]
        else:
            series, mean = RIGHT_DATA[r]
            for k, s in enumerate(series):
                fig.add_trace(go.Scatter(x=T_THIRD, y=s, mode='lines', xaxis=xref, yaxis=yref,
                                         line=dict(color=COLORS[k % 7], width=1.2),
                                         name=STATIONS[r][k], hoverinfo='skip'))
            fig.add_trace(go.Scatter(x=T_THIRD, y=mean, mode='lines', xaxis=xref, yaxis=yref,
                                     line=dict(color='black', width=3), name='mean',
                                     hoverinfo='skip'))
            letter = RIGHT_LETTERS[r]

        annotations.append(dict(text=letter, xref=xref + ' domain', yref=yref + ' domain',
                                x=0.04, y=1.015, xanchor='left', yanchor='top',
                                showarrow=False, font=dict(size=17, family=FONT, color=TXT)))

    # row label
    annotations.append(dict(text=ROW_LABELS[r], xref='paper', yref='paper',
                            x=11 / W, y=1 - (y0 + y1) / 2 / H, textangle=-90,
                            xanchor='center', yanchor='middle', showarrow=False,
                            font=dict(size=16, family=FONT, color=TXT)))
    # legend (station names)
    names = STATIONS[r]
    nn = len(names)
    cy = (y0 + y1) / 2
    for k, nm in enumerate(names):
        ypx = cy + (k - (nn - 1) / 2) * 14.5
        shapes.append(dict(type='line', xref='paper', yref='paper',
                           x0=550 / W, x1=590 / W, y0=1 - ypx / H, y1=1 - ypx / H,
                           line=dict(color=COLORS[k % 7], width=2)))
        annotations.append(dict(text=nm, xref='paper', yref='paper', x=594 / W,
                                y=1 - ypx / H, xanchor='left', yanchor='middle',
                                showarrow=False, font=dict(size=12, family=FONT, color=TXT)))

# column titles & x titles
annotations.append(dict(text='CO<sub>2</sub> [ppm]', xref='paper', yref='paper',
                        x=(LEFT_X[0] + LEFT_X[1]) / 2 / W, y=1 - 10 / H, xanchor='center',
                        yanchor='middle', showarrow=False, font=dict(size=15, family=FONT, color=TXT)))
annotations.append(dict(text='CO<sub>2</sub> IAV [ppm]', xref='paper', yref='paper',
                        x=(RIGHT_X[0] + RIGHT_X[1]) / 2 / W, y=1 - 10 / H, xanchor='center',
                        yanchor='middle', showarrow=False, font=dict(size=15, family=FONT, color=TXT)))
for xs in (LEFT_X, RIGHT_X):
    annotations.append(dict(text='Year', xref='paper', yref='paper',
                            x=(xs[0] + xs[1]) / 2 / W, y=1 - 776 / H, xanchor='center',
                            yanchor='middle', showarrow=False, font=dict(size=14, family=FONT, color=TXT)))

layout['annotations'] = annotations
layout['shapes'] = shapes
fig.update_layout(**layout)
# remove the browser's default 8px body margin so the figure sits at the page origin
fig.write_html('out.html', config={'displayModeBar': False},
               post_script="document.body.style.margin='0px';")
